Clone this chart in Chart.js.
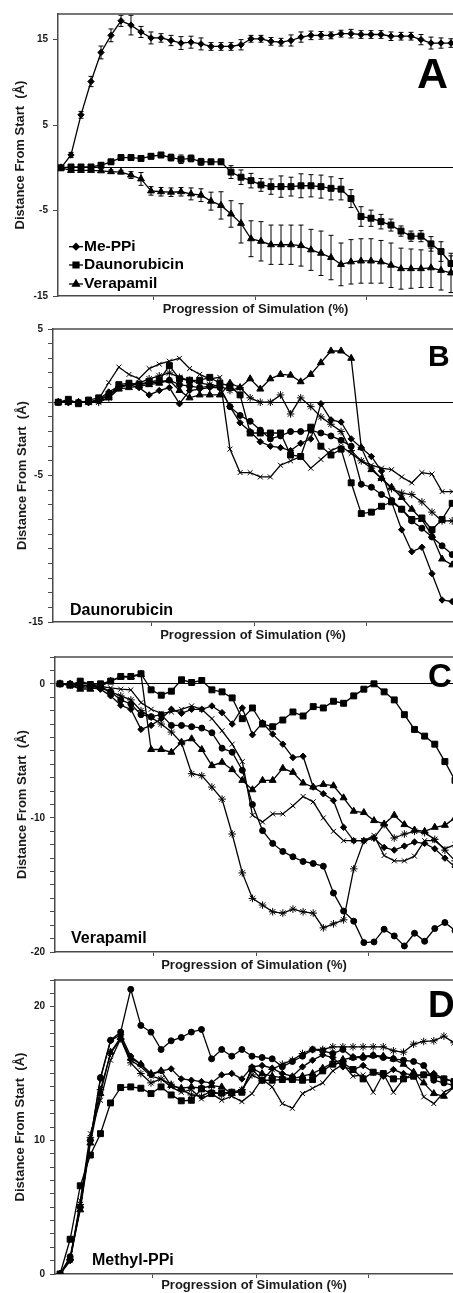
<!DOCTYPE html>
<html>
<head>
<meta charset="utf-8">
<script src="https://cdn.jsdelivr.net/npm/chart.js@4.4.0/dist/chart.umd.min.js"></script>
<style>
  html, body { margin: 0; padding: 0; background: #fff; overflow: hidden; }
  body { position: relative; width: 453px; height: 1293px; }
  canvas { position: absolute; left: 0; }
</style>
</head>
<body>
<canvas id="chartA" width="453" height="319" style="top:3px"></canvas>
<canvas id="chartB" width="453" height="330" style="top:318px"></canvas>
<canvas id="chartC" width="453" height="332" style="top:646px"></canvas>
<canvas id="chartD" width="453" height="324" style="top:969px"></canvas>
<script>
// sample index along the run (x axis), tick marks on the progression axis
const sampleIndex = Array.from({length: 40}, (_, i) => i);
const xTickMarks = [9.2, 19.4, 30.5];

// y tick labels per panel
const yLabelsA = [15, 5, -5, -15];
const yLabelsB = [5, -5, -15];
const yLabelsC = [0, -10, -20];
const yLabelsD = [20, 10, 0];

// Panel A - averages with error bars
const aMePPi = [0,1.5,6.2,10.1,13.5,15.5,17.2,16.7,15.9,15.2,15.2,14.9,14.6,14.7,14.5,14.2,14.2,14.2,14.4,15.1,15.1,14.8,14.7,14.9,15.3,15.5,15.5,15.5,15.7,15.7,15.6,15.6,15.6,15.4,15.4,15.4,15.0,14.6,14.6,14.6];
const aMePPiErr = [0,0.3,0.4,0.6,0.75,0.75,0.65,1.15,0.65,0.7,0.5,0.6,0.75,0.7,0.7,0.45,0.45,0.45,0.6,0.4,0.4,0.45,0.45,0.65,0.6,0.5,0.45,0.4,0.4,0.5,0.45,0.45,0.45,0.5,0.45,0.45,0.6,0.7,0.6,0.5];
const aDauno = [0,0.1,0.1,0.1,0.3,0.7,1.2,1.2,1.1,1.35,1.5,1.2,1.0,1.1,0.7,0.7,0.7,-0.5,-1.1,-1.5,-2.0,-2.2,-2.2,-2.2,-2.1,-2.1,-2.2,-2.4,-2.5,-3.6,-5.7,-5.9,-6.3,-6.7,-7.4,-8.0,-8.0,-8.9,-9.8,-11.2];
const aDaunoErr = [0,0.2,0.2,0.2,0.3,0.3,0.3,0.3,0.3,0.3,0.3,0.4,0.5,0.4,0.4,0.3,0.3,0.75,0.85,0.85,0.75,0.9,1.25,1.1,1.4,1.3,1.35,1.35,1.25,1.05,1.15,0.95,0.85,0.7,0.6,0.6,0.65,0.85,1.15,0.9];
const aVera = [0,-0.3,-0.3,-0.3,-0.35,-0.45,-0.5,-0.85,-1.3,-2.7,-2.8,-2.85,-2.8,-3.05,-3.2,-3.9,-4.4,-5.4,-6.5,-8.3,-8.6,-9.0,-9.0,-9.0,-9.1,-9.6,-10.0,-10.5,-11.3,-11.0,-10.9,-10.9,-11.0,-11.4,-11.8,-11.8,-11.8,-11.7,-12.0,-12.3];
const aVeraErr = [0,0.1,0.1,0.1,0.1,0.2,0.2,0.4,0.75,0.5,0.5,0.5,0.5,0.7,0.75,1.05,1.6,1.55,2.3,2.1,2.3,2.3,2.3,2.3,2.4,2.4,2.6,2.6,2.5,2.6,2.6,2.6,2.5,2.6,2.4,2.3,2.2,2.3,2.3,2.3];

// Panel B - Daunorubicin runs
const bDiamond = [0,0.1,0,0,0.2,0.7,1.1,1.2,1.0,0.5,0.8,1.0,-0.1,0.8,0.9,1.0,1.0,-0.3,-1.4,-2.0,-2.7,-3.0,-3.1,-3.3,-2.8,-2.5,-0.1,-1.2,-1.35,-2.5,-3.1,-3.7,-4.7,-6.8,-8.7,-10.2,-9.9,-11.7,-13.5,-13.6];
const bSquare = [0,0.2,-0.1,0.15,0.3,0.4,1.2,1.3,1.2,1.4,1.5,2.5,1.6,1.5,1.5,1.7,1.3,1.1,0.5,-2.1,-2.1,-2.1,-2.1,-3.6,-3.7,-1.7,-3.0,-3.6,-3.2,-5.5,-7.6,-7.5,-7.1,-6.8,-7.3,-8.0,-7.9,-8.7,-8.0,-6.9];
const bTriangle = [0,0,0,0,0.1,0.3,0.9,1.0,1.1,1.2,1.3,1.5,0.8,0.3,0.5,0.5,0.5,1.3,1.0,1.6,0.9,1.6,1.9,1.85,1.4,1.9,2.7,3.5,3.5,3.0,-3.1,-4.6,-5.2,-5.8,-6.5,-7.3,-8.0,-9.1,-10.7,-11.1];
const bCircle = [0,0,0,0,0.1,0.5,1.0,1.2,1.2,1.3,1.4,1.5,1.2,1.1,1.0,1.1,1.0,-0.3,-0.9,-1.3,-1.9,-2.5,-2.3,-2.0,-2.0,-1.9,-2.1,-2.3,-2.6,-3.0,-5.6,-5.8,-6.3,-6.7,-7.3,-8.1,-8.6,-9.2,-9.8,-10.4];
const bCross = [0,0,0,0,0.2,1.35,2.4,1.9,1.6,2.3,2.6,2.8,3.0,2.3,1.9,1.6,1.7,-3.2,-4.8,-4.8,-5.1,-5.1,-4.3,-4.0,-3.7,-4.5,-3.9,-3.3,-3.0,-3.5,-4.0,-4.3,-4.5,-4.6,-5.1,-5.5,-4.8,-4.9,-6.1,-6.1];
const bStar = [0,0,0,0,0,0.3,1.0,1.2,1.3,1.6,1.8,2.0,1.7,1.5,1.3,1.2,1.1,0.8,1.0,0.3,0,0,0.5,-0.8,0.3,-0.3,-1.0,-1.5,-2.0,-3.3,-4.0,-4.5,-5.2,-5.9,-6.2,-6.3,-6.8,-7.5,-8.1,-8.1];

// Panel C - Verapamil runs
const cSquare = [0,-0.1,0.2,-0.05,0,0.2,0.55,0.55,0.75,-0.45,-0.85,-0.55,0.3,0.1,0.25,-0.45,-0.6,-1.05,-2.6,-1.8,-3.0,-3.2,-2.7,-2.1,-2.4,-1.7,-1.8,-1.3,-1.45,-0.9,-0.4,0,-0.6,-1.2,-2.3,-3.4,-3.9,-4.5,-5.8,-7.2];
const cDiamond = [0,-0.1,-0.3,-0.3,-0.4,-0.9,-1.6,-1.9,-3.4,-3.1,-2.6,-1.9,-2.2,-1.9,-1.9,-1.65,-2.15,-3.0,-1.8,-3.8,-2.9,-3.75,-4.5,-5.5,-5.4,-7.7,-8.2,-8.7,-10.7,-11.7,-11.7,-11.5,-12.2,-12.4,-12.1,-11.8,-11.9,-12.3,-13.0,-13.65];
const cTriangle = [0,-0.1,-0.4,-0.4,-0.2,0.2,0.5,0.5,0.7,-4.9,-4.9,-5.1,-4.35,-4.1,-4.9,-6.1,-5.85,-6.4,-7.2,-7.9,-7.2,-7.2,-6.3,-6.6,-7.4,-7.7,-7.5,-7.6,-8.5,-9.5,-9.6,-10.2,-10.45,-9.8,-10.5,-10.9,-11.0,-10.7,-10.55,-10.0];
const cCircle = [0,0,-0.2,-0.1,-0.3,-0.6,-1.2,-1.5,-2.3,-2.45,-2.3,-3.1,-3.1,-3.2,-3.3,-3.65,-4.8,-5.1,-6.45,-9.0,-10.95,-11.9,-12.5,-12.9,-13.25,-13.4,-13.6,-15.6,-16.95,-17.7,-19.3,-19.25,-18.3,-18.8,-19.55,-18.6,-19.2,-18.25,-17.8,-18.4];
const cCross = [0,0,-0.1,-0.1,-0.2,-0.3,-0.4,-0.45,-1.4,-1.9,-2.2,-2.1,-1.9,-1.65,-1.9,-2.6,-3.5,-4.5,-5.8,-9.8,-10.3,-9.7,-9.7,-9.1,-8.4,-8.8,-10.0,-11.0,-11.7,-11.7,-11.7,-11.3,-12.8,-13.2,-13.2,-12.85,-11.7,-11.7,-12.3,-12.0];
const cStar = [0,0,-0.1,-0.2,-0.2,-0.6,-0.9,-1.2,-2.0,-2.5,-3.0,-3.6,-4.4,-6.7,-6.85,-7.7,-8.6,-11.2,-14.1,-16.0,-16.5,-17.0,-17.1,-16.8,-17.0,-17.1,-18.2,-17.9,-17.6,-13.8,-11.7,-11.5,-10.5,-11.5,-11.2,-11.0,-11.1,-11.6,-12.4,-13.2];

// Panel D - Methyl-PPi runs
const dCircle = [0,1.3,5.0,10.0,14.7,17.5,18.1,21.3,18.6,18.1,16.8,17.45,17.7,18.1,18.3,16.1,16.8,16.3,16.8,16.3,16.2,16.1,15.5,15.9,16.3,16.8,16.7,16.5,16.8,16.2,16.2,16.35,16.2,16.1,16.0,15.9,15.6,14.5,14.3,14.1];
const dSquare = [0,2.6,6.6,8.9,10.5,12.8,13.95,14.0,13.9,13.5,14.0,13.4,12.96,13.0,13.85,13.5,13.55,13.6,13.6,15.35,14.5,14.5,14.55,14.55,14.5,14.55,15.2,15.7,15.8,15.3,14.6,15.1,15.0,14.6,14.6,14.8,14.9,14.8,14.6,14.4];
const dTriangle = [0,1.2,4.8,9.8,13.5,16.6,17.7,16.15,15.7,15.0,15.2,14.1,13.9,14.0,13.9,14.1,14.0,13.5,13.7,15.4,15.0,14.8,14.7,14.6,14.8,15.0,15.4,15.8,16.05,16.2,16.3,16.35,16.3,16.1,15.7,15.1,14.3,13.5,13.3,14.0];
const dDiamond = [0,1.0,5.0,10.0,14.6,17.45,17.9,16.3,15.7,14.9,15.2,15.35,14.6,14.5,14.4,14.3,14.9,15.0,14.6,15.5,15.6,15.4,15.0,14.8,15.5,16.0,16.4,16.2,15.5,15.3,15.6,15.1,14.8,15.3,15.0,14.9,14.9,15.0,14.6,14.4];
const dCross = [0,1.0,5.5,10.5,13.0,16.0,17.6,16.0,15.5,14.8,14.6,14.0,13.6,13.8,13.1,13.5,13.0,13.3,12.9,13.5,14.6,14.0,12.75,12.4,13.5,13.9,14.3,15.2,15.7,14.8,14.9,13.6,15.0,13.6,14.6,15.0,13.25,12.75,13.6,14.0];
const dStar = [0,1.1,5.2,10.2,13.8,16.5,17.6,15.8,15.0,14.3,14.6,14.2,13.8,13.4,13.3,13.7,13.4,13.6,13.8,14.9,14.5,15.3,15.7,16.0,16.5,16.8,16.8,17.0,17.0,17.0,17.0,17.0,17.0,16.7,16.6,17.2,17.4,17.45,17.8,17.3];

const FONT = '"Liberation Sans", Arial, sans-serif';
const axisColor = '#4a4a4a';
const markerSize = { rectRot: 3.2, rect: 4.2, triangle: 4, circle: 3, crossRot: 3.5, star: 3.8 };

function range(lo, hi) {
  const out = [];
  for (let v = lo; v <= hi; v++) out.push(v);
  return out;
}

// top edge of the plot frame (the right edge is cut off in the figure)
const frame = {
  id: 'frame',
  afterDraw(chart) {
    const { ctx, chartArea: a } = chart;
    ctx.save();
    ctx.strokeStyle = axisColor;
    ctx.lineWidth = 1.5;
    ctx.beginPath();
    ctx.moveTo(a.left, a.top);
    ctx.lineTo(a.right, a.top);
    ctx.stroke();
    ctx.restore();
  }
};

// vertical error bars for datasets that carry an errors array
const errorBars = {
  id: 'errorBars',
  afterDatasetsDraw(chart) {
    const { ctx, scales: { x, y }, chartArea } = chart;
    ctx.save();
    ctx.strokeStyle = '#000';
    ctx.lineWidth = 1;
    chart.data.datasets.forEach(ds => {
      if (!ds.errors) return;
      ds.data.forEach((p, i) => {
        const e = ds.errors[i];
        if (!e) return;
        const px = x.getPixelForValue(p.x);
        if (px > chartArea.right) return;
        const top = y.getPixelForValue(p.y + e);
        const bot = y.getPixelForValue(p.y - e);
        ctx.beginPath();
        ctx.moveTo(px, top); ctx.lineTo(px, bot);
        ctx.moveTo(px - 2.5, top); ctx.lineTo(px + 2.5, top);
        ctx.moveTo(px - 2.5, bot); ctx.lineTo(px + 2.5, bot);
        ctx.stroke();
      });
    });
    ctx.restore();
  }
};

// panel letter and run label
function panelText(items) {
  return {
    id: 'panelText',
    afterDraw(chart) {
      const ctx = chart.ctx;
      ctx.save();
      ctx.fillStyle = '#000';
      ctx.textBaseline = 'alphabetic';
      items.forEach(t => {
        ctx.font = `bold ${t.size}px ${FONT}`;
        ctx.fillText(t.text, t.x, t.y);
      });
      ctx.restore();
    }
  };
}

// legend drawn inside the plot of panel A
function insideLegend(x, rows, len, size) {
  return {
    id: 'insideLegend',
    afterDraw(chart) {
      const ctx = chart.ctx;
      ctx.save();
      chart.data.datasets.forEach((ds, k) => {
        const y = rows[k];
        ctx.strokeStyle = '#000';
        ctx.fillStyle = '#000';
        ctx.lineWidth = 1.3;
        ctx.beginPath();
        ctx.moveTo(x, y); ctx.lineTo(x + len, y);
        ctx.stroke();
        Chart.helpers.drawPoint(ctx, { pointStyle: ds.pointStyle, radius: ds.pointRadius, rotation: 0, borderWidth: 1 }, x + len / 2, y);
        ctx.font = `bold ${size}px ${FONT}`;
        ctx.textBaseline = 'middle';
        ctx.fillText(ds.label, x + len + 1, y);
      });
      ctx.restore();
    }
  };
}

function makePanel(p) {
  const datasets = p.series.map(s => ({
    label: s.name,
    data: s.values.map((v, i) => ({ x: sampleIndex[i], y: v })),
    errors: s.errors,
    borderColor: '#000',
    backgroundColor: '#000',
    borderWidth: 1.3,
    pointStyle: s.style,
    pointRadius: markerSize[s.style],
    pointBorderWidth: 1,
    pointBackgroundColor: '#000',
    pointBorderColor: '#000',
    tension: 0
  }));

  const plugins = [frame, errorBars, panelText(p.texts)];
  if (p.legend) plugins.push(p.legend);

  return new Chart(document.getElementById(p.id), {
    type: 'line',
    data: { datasets },
    options: {
      responsive: false,
      animation: false,
      devicePixelRatio: 1,
      events: [],
      layout: { autoPadding: false, padding: { top: 8, left: 0, right: 0, bottom: 0 } },
      plugins: { legend: { display: false }, tooltip: { enabled: false } },
      scales: {
        x: {
          type: 'linear',
          min: p.xMin,
          max: p.xMax,
          afterBuildTicks: s => { s.ticks = xTickMarks.map(v => ({ value: v })); },
          afterFit: s => { s.height = p.xAxisHeight; },
          ticks: { display: false },
          grid: { drawOnChartArea: false, tickLength: 4, color: axisColor, lineWidth: 1 },
          border: { color: axisColor, width: 1.5 },
          title: {
            display: true,
            text: 'Progression of Simulation (%)',
            color: '#1a1a1a',
            font: { family: FONT, size: 13, weight: 'bold' },
            padding: { top: 0, bottom: p.xTitlePad }
          }
        },
        y: {
          type: 'linear',
          min: p.yMin,
          max: p.yMax,
          afterBuildTicks: s => { s.ticks = p.yTicks.map(v => ({ value: v })); },
          afterFit: s => { s.width = p.left; },
          ticks: {
            autoSkip: false,
            padding: 5,
            color: '#1a1a1a',
            font: { family: FONT, size: 10, weight: 'bold' },
            callback: v => (p.labels.includes(v) ? String(v) : '')
          },
          grid: {
            color: c => (p.zeroLine && c.tick && c.tick.value === 0 ? '#000' : 'rgba(0,0,0,0)'),
            tickColor: c => (p.hideZeroTick && c.tick && c.tick.value === 0 ? 'rgba(0,0,0,0)' : axisColor),
            tickLength: 5,
            lineWidth: 1
          },
          border: { color: axisColor, width: 1.5 },
          title: {
            display: true,
            text: 'Distance From Start  (Å)',
            color: '#1a1a1a',
            font: { family: FONT, size: 13, weight: 'bold' },
            padding: { top: p.titlePad, bottom: 0 }
          }
        }
      }
    },
    plugins
  });
}

makePanel({
  id: 'chartA', left: 58, xMin: -0.3, xMax: 39.2, yMin: -15, yMax: 18,
  xAxisHeight: 26, xTitlePad: 5,
  yTicks: [-15, -5, 0, 5, 15], labels: yLabelsA, zeroLine: true, hideZeroTick: true, titlePad: 13,
  series: [
    { name: 'Me-PPi', values: aMePPi, errors: aMePPiErr, style: 'rectRot' },
    { name: 'Daunorubicin', values: aDauno, errors: aDaunoErr, style: 'rect' },
    { name: 'Verapamil', values: aVera, errors: aVeraErr, style: 'triangle' }
  ],
  texts: [{ text: 'A', x: 417, y: 85, size: 43 }],
  legend: insideLegend(69, [243.7, 262, 281], 14, 15.5)
});

makePanel({
  id: 'chartB', left: 53, xMin: -0.52, xMax: 39.08, yMin: -15, yMax: 5,
  xAxisHeight: 26, xTitlePad: 5,
  yTicks: range(-15, 5), labels: yLabelsB, zeroLine: true, titlePad: 15,
  series: [
    { name: 'run 1', values: bDiamond, style: 'rectRot' },
    { name: 'run 2', values: bSquare, style: 'rect' },
    { name: 'run 3', values: bTriangle, style: 'triangle' },
    { name: 'run 4', values: bCircle, style: 'circle' },
    { name: 'run 5', values: bCross, style: 'crossRot' },
    { name: 'run 6', values: bStar, style: 'star' }
  ],
  texts: [{ text: 'B', x: 428, y: 48, size: 30 }, { text: 'Daunorubicin', x: 70, y: 297, size: 16 }]
});

makePanel({
  id: 'chartC', left: 55, xMin: -0.49, xMax: 38.8, yMin: -20, yMax: 2,
  xAxisHeight: 26, xTitlePad: 5,
  yTicks: range(-20, 2), labels: yLabelsC, zeroLine: true, titlePad: 15,
  series: [
    { name: 'run 1', values: cSquare, style: 'rect' },
    { name: 'run 2', values: cDiamond, style: 'rectRot' },
    { name: 'run 3', values: cTriangle, style: 'triangle' },
    { name: 'run 4', values: cCircle, style: 'circle' },
    { name: 'run 5', values: cCross, style: 'crossRot' },
    { name: 'run 6', values: cStar, style: 'star' }
  ],
  texts: [{ text: 'C', x: 428, y: 41, size: 33 }, { text: 'Verapamil', x: 71, y: 297, size: 16 }]
});

makePanel({
  id: 'chartD', left: 55, xMin: -0.5, xMax: 38.9, yMin: 0, yMax: 22,
  xAxisHeight: 19, xTitlePad: 0,
  yTicks: range(0, 22), labels: yLabelsD, zeroLine: false, titlePad: 13,
  series: [
    { name: 'run 1', values: dCircle, style: 'circle' },
    { name: 'run 2', values: dSquare, style: 'rect' },
    { name: 'run 3', values: dTriangle, style: 'triangle' },
    { name: 'run 4', values: dDiamond, style: 'rectRot' },
    { name: 'run 5', values: dCross, style: 'crossRot' },
    { name: 'run 6', values: dStar, style: 'star' }
  ],
  texts: [{ text: 'D', x: 428, y: 48, size: 37 }, { text: 'Methyl-PPi', x: 92, y: 296, size: 16 }]
});
</script>
</body>
</html>
